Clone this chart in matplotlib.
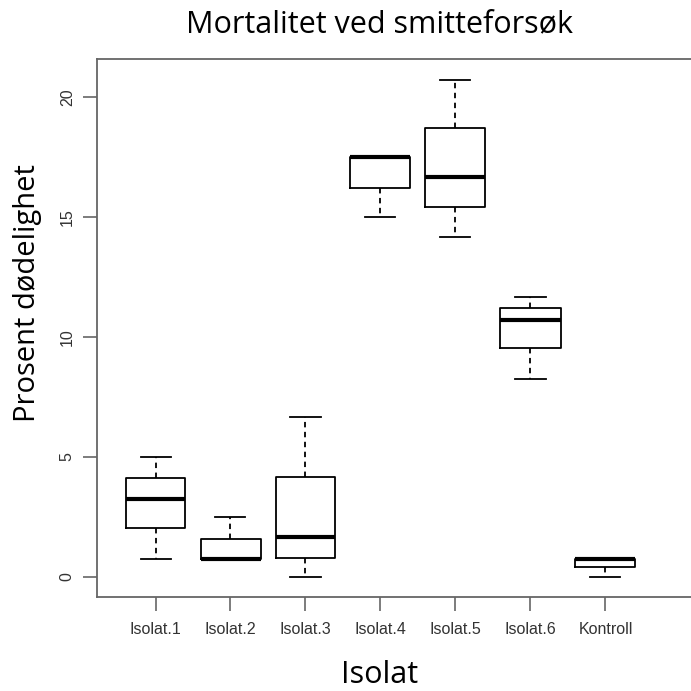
import matplotlib.pyplot as plt

# verdier lest av figuren (prosent dødelighet)
labels = ['Isolat.1', 'Isolat.2', 'Isolat.3', 'Isolat.4', 'Isolat.5', 'Isolat.6', 'Kontroll']
whislo = [0.75, 0.75, 0.0, 15.0, 14.15, 8.25, 0.0]
q1 = [2.04, 0.75, 0.81, 16.2, 15.4, 9.52, 0.4]
med = [3.25, 0.75, 1.67, 17.5, 16.65, 10.72, 0.75]
q3 = [4.12, 1.6, 4.17, 17.5, 18.7, 11.2, 0.75]
whishi = [5.0, 2.48, 6.67, 17.5, 20.7, 11.65, 0.75]

stats = []
for i in range(len(labels)):
    stats.append({'label': labels[i], 'whislo': whislo[i], 'q1': q1[i], 'med': med[i],
                  'q3': q3[i], 'whishi': whishi[i], 'fliers': []})

W = 691
fig = plt.figure(figsize=(6.91, 6.91), dpi=100)
ax = fig.add_axes([97 / W, 94 / W, 594 / W, 538 / W])

ax.bxp(stats, positions=range(1, 8), widths=0.8, showfliers=False,
       boxprops=dict(color='black', linewidth=1.3),
       medianprops=dict(color='black', linewidth=3),
       whiskerprops=dict(color='black', linewidth=1.3, linestyle=(0, (3, 2.5))),
       capprops=dict(color='black', linewidth=1.3),
       capwidths=0.4)

ax.set_xlim(0.22, 0.22 + 594 / 75)
ax.set_ylim(-0.833, 21.58)
ax.set_yticks([0, 5, 10, 15, 20])
ax.set_xticks(range(1, 8))
ax.set_xticklabels(labels)

for s in ['left', 'bottom', 'top']:
    ax.spines[s].set_color('#666666')
    ax.spines[s].set_linewidth(1.3)
ax.spines['right'].set_visible(False)

ax.tick_params(axis='both', color='#666666', length=10, width=1.2,
               labelsize=11.5, labelcolor='#333333')
ax.tick_params(axis='x', pad=8)
ax.tick_params(axis='y', pad=6)
for t in ax.get_xticklabels():
    t.set_fontfamily('Liberation Sans')
for t in ax.get_yticklabels():
    t.set_fontfamily('Liberation Sans')
    t.set_rotation(90)
    t.set_va('center')

fig.text(380 / W, 1 - 24 / W, 'Mortalitet ved smitteforsøk', ha='center', va='center',
         fontsize=22, family='Open Sans')
fig.text(380 / W, 1 - 675 / W, 'Isolat', ha='center', va='center',
         fontsize=22, family='Open Sans')
fig.text(28 / W, 1 - 293 / W, 'Prosent dødelighet', ha='center', va='center',
         fontsize=21, family='Open Sans', rotation=90)

fig.savefig('out.png', dpi=100)
